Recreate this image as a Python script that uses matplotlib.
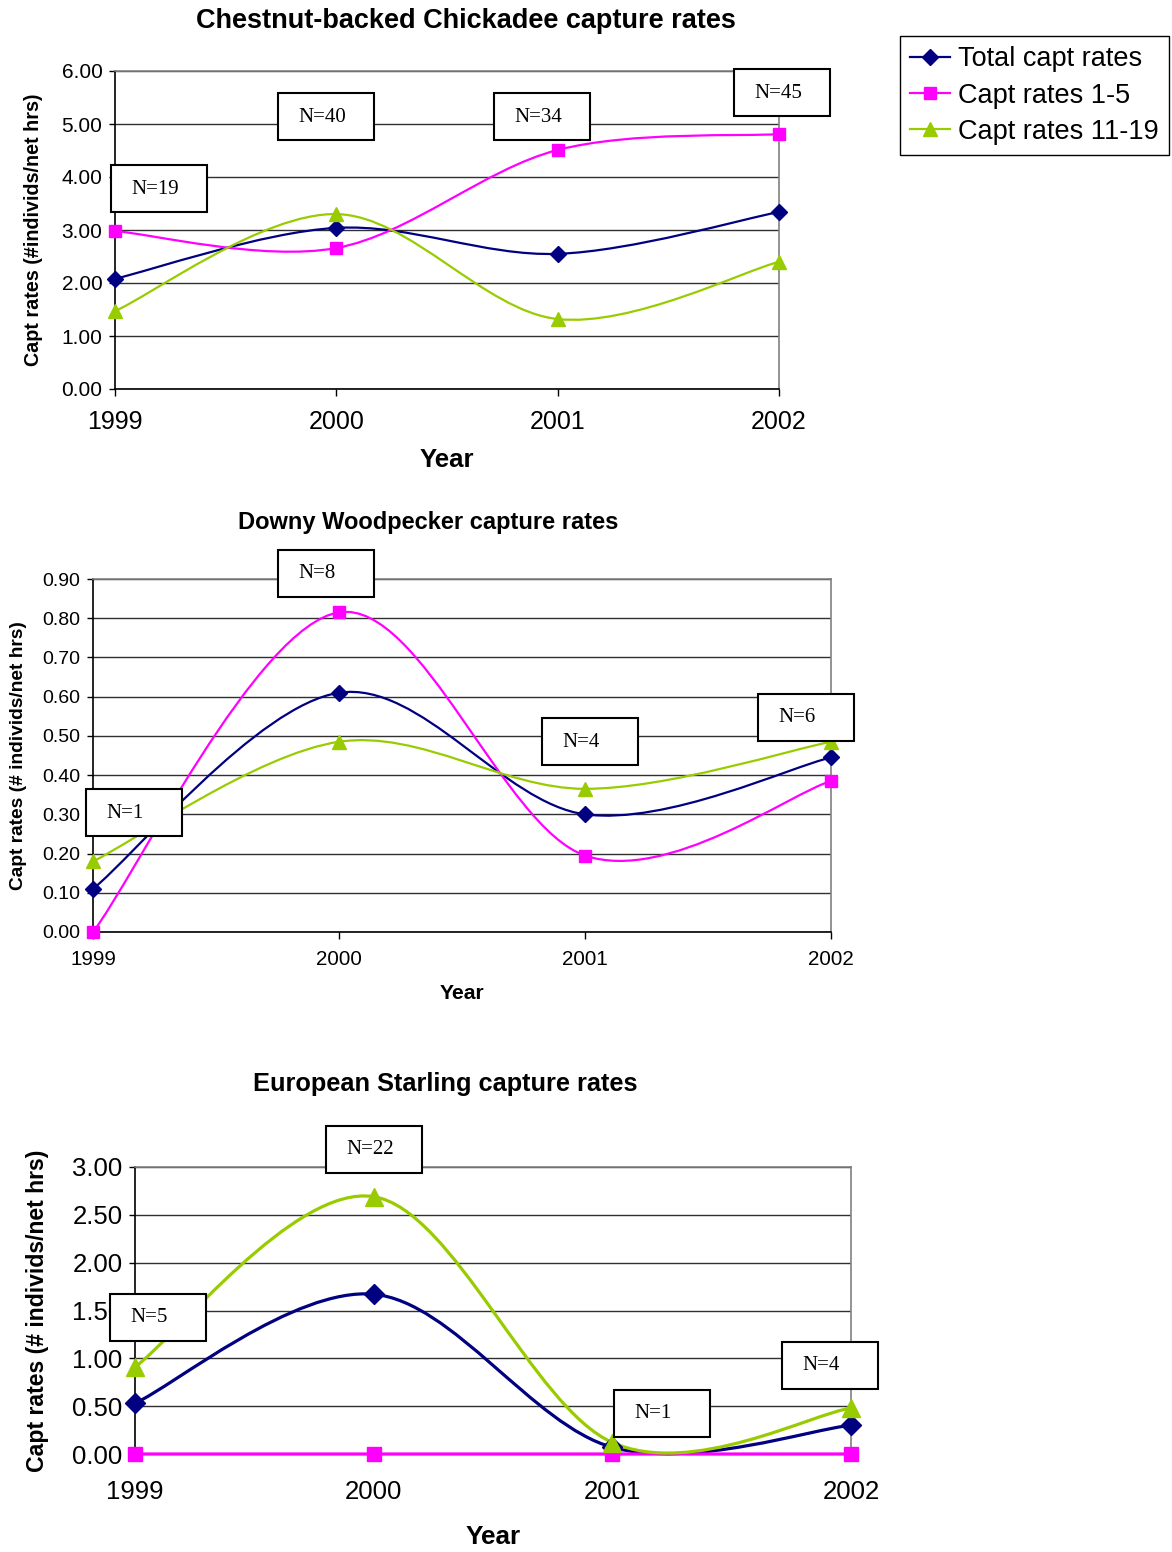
import numpy as np
import matplotlib
matplotlib.use('Agg')
import matplotlib.pyplot as plt
from matplotlib.path import Path
from matplotlib.patches import PathPatch, Rectangle
from matplotlib.lines import Line2D

plt.rcParams['font.family'] = ['Liberation Sans', 'DejaVu Sans']

years = [1999, 2000, 2001, 2002]

chickadee_total = [2.08, 3.04, 2.55, 3.34]
chickadee_1_5 = [2.98, 2.66, 4.51, 4.81]
chickadee_11_19 = [1.47, 3.30, 1.32, 2.40]
chickadee_n = ['N=19', 'N=40', 'N=34', 'N=45']
chickadee_yticks = [0, 1, 2, 3, 4, 5, 6]

woodpecker_total = [0.11, 0.61, 0.30, 0.445]
woodpecker_1_5 = [0.0, 0.815, 0.195, 0.385]
woodpecker_11_19 = [0.18, 0.485, 0.365, 0.485]
woodpecker_n = ['N=1', 'N=8', 'N=4', 'N=6']
woodpecker_yticks = [0.0, 0.1, 0.2, 0.3, 0.4, 0.5, 0.6, 0.7, 0.8, 0.9]

starling_total = [0.53, 1.67, 0.07, 0.30]
starling_1_5 = [0.0, 0.0, 0.0, 0.0]
starling_11_19 = [0.91, 2.69, 0.12, 0.48]
starling_n = ['N=5', 'N=22', 'N=1', 'N=4']
starling_yticks = [0.0, 0.5, 1.0, 1.5, 2.0, 2.5, 3.0]

series_names = ['Total capt rates', 'Capt rates 1-5', 'Capt rates 11-19']
colors = ['#000080', '#FF00FF', '#99CC00']
markers = ['D', 's', '^']

W, H = 1172, 1552
fig = plt.figure(figsize=(W / 100, H / 100), dpi=100)


def px_rect(l, t, r, b):
    return [l / W, 1 - b / H, (r - l) / W, (b - t) / H]


def smooth_path(x, y):
    # excel style smoothed line: bezier segments with catmull-rom control points
    P = np.column_stack([x, y]).astype(float)
    n = len(P)
    verts = [P[0]]
    codes = [Path.MOVETO]
    for i in range(n - 1):
        prev = P[i - 1] if i > 0 else P[i]
        nxt = P[i + 2] if i + 2 < n else P[i + 1]
        c1 = P[i] + (P[i + 1] - prev) / 6
        c2 = P[i + 1] - (nxt - P[i]) / 6
        verts += [c1, c2, P[i + 1]]
        codes += [Path.CURVE4] * 3
    return Path(verts, codes)


def n_box(left, top, label, fs=15):
    fig.patches.append(Rectangle((left / W, 1 - (top + 47) / H), 96 / W, 47 / H,
                                 transform=fig.transFigure, facecolor='white',
                                 edgecolor='black', lw=1.5, zorder=5))
    fig.text((left + 20) / W, 1 - (top + 24) / H, label, family='Liberation Serif',
             fontsize=fs, ha='left', va='center', zorder=6)


def draw_chart(rect, series, yticks, lw, ms, tick_fs, xtick_fs, ylab_fs, xlab_fs,
               xpad, ylab_x, xlab_y, ylabel):
    ax = fig.add_axes(rect)
    for vals, c, m in zip(series, colors, markers):
        ax.add_patch(PathPatch(smooth_path(years, vals), facecolor='none', edgecolor=c,
                               lw=lw, zorder=3, clip_on=False))
        size = ms * 1.2 if m == '^' else ms
        ax.plot(years, vals, linestyle='none', marker=m, color=c, markersize=size,
                zorder=4, clip_on=False)
    ax.set_xlim(years[0], years[-1])
    ax.set_ylim(yticks[0], yticks[-1])
    ax.set_yticks(yticks)
    ax.set_yticklabels(['{:.2f}'.format(v) for v in yticks], fontsize=tick_fs)
    ax.set_xticks(years)
    ax.set_xticklabels([str(y) for y in years], fontsize=xtick_fs)
    ax.tick_params(axis='y', direction='out', length=4, width=1, pad=5)
    ax.tick_params(axis='x', direction='out', length=5, width=1, pad=xpad)
    ax.grid(axis='y', color='#303030', lw=1)
    ax.set_axisbelow(True)
    for s in ['top', 'right']:
        ax.spines[s].set_color('#808080')
        ax.spines[s].set_linewidth(1.2)
    for s in ['left', 'bottom']:
        ax.spines[s].set_color('black')
        ax.spines[s].set_linewidth(1.2)
    ax.set_ylabel(ylabel, fontsize=ylab_fs, fontweight='bold', va='center')
    ax.yaxis.set_label_coords(ylab_x, 0.5)
    ax.set_xlabel('Year', fontsize=xlab_fs, fontweight='bold', va='center')
    ax.xaxis.set_label_coords(0.5, xlab_y)
    return ax


# chart 1
ax1 = draw_chart(px_rect(115, 71, 779, 389),
                 [chickadee_total, chickadee_1_5, chickadee_11_19],
                 chickadee_yticks, 1.6, 8, 15, 18, 14.2, 18.5, 10, -0.122, -0.223,
                 'Capt rates (#individs/net hrs)')
fig.text(466 / W, 1 - 21 / H, 'Chestnut-backed Chickadee capture rates',
         fontsize=19.5, fontweight='bold', ha='center', va='center')
for (l, t), lab in zip([(111, 165), (278, 93), (494, 93), (734, 69)], chickadee_n):
    n_box(l, t, lab)

# chart 2
ax2 = draw_chart(px_rect(93, 579, 831, 932),
                 [woodpecker_total, woodpecker_1_5, woodpecker_11_19],
                 woodpecker_yticks, 1.6, 8, 14, 14.8, 13.8, 15.2, 8, -0.1016, -0.1756,
                 'Capt rates (# individs/net hrs)')
fig.text(428 / W, 1 - 523 / H, 'Downy Woodpecker capture rates',
         fontsize=17, fontweight='bold', ha='center', va='center')
for (l, t), lab in zip([(86, 789), (278, 550), (542, 718), (758, 694)], woodpecker_n):
    n_box(l, t, lab)

# chart 3
ax3 = draw_chart(px_rect(135, 1167, 851, 1454),
                 [starling_total, starling_1_5, starling_11_19],
                 starling_yticks, 2.3, 10.5, 18.5, 18.5, 16.6, 18.8, 14, -0.1355, -0.289,
                 'Capt rates (# individs/net hrs)')
fig.text(445 / W, 1 - 1084 / H, 'European Starling capture rates',
         fontsize=18.3, fontweight='bold', ha='center', va='center')
for (l, t), lab in zip([(110, 1294), (326, 1126), (614, 1390), (782, 1342)], starling_n):
    n_box(l, t, lab)

# legend
handles = [Line2D([], [], color=c, marker=m, lw=1.6, markersize=8 if m != '^' else 9.5)
           for c, m in zip(colors, markers)]
leg = fig.legend(handles, series_names, loc='upper left',
                 bbox_to_anchor=(900 / W, 1 - 36 / H), fontsize=19.5,
                 frameon=True, fancybox=False, edgecolor='black', framealpha=1,
                 handlelength=1.45, handletextpad=0.3, borderpad=0.38,
                 labelspacing=0.38, borderaxespad=0)
leg.get_frame().set_linewidth(1.0)

fig.savefig('out.png', dpi=100)
